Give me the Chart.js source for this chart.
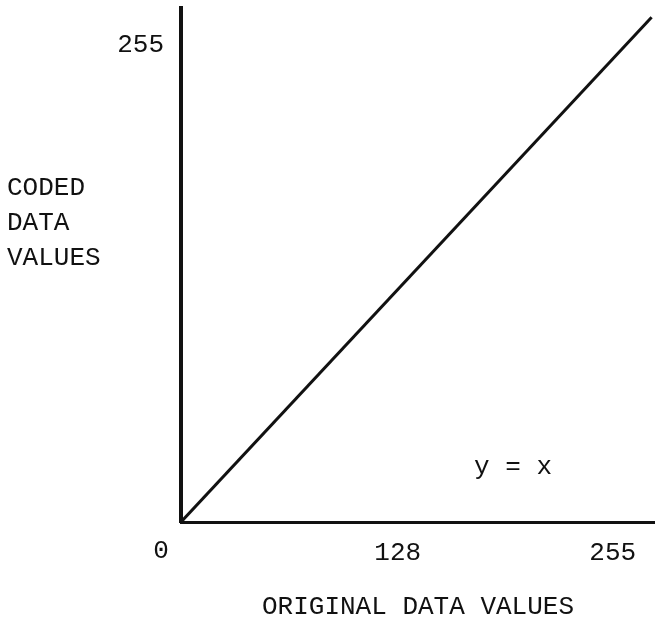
<!DOCTYPE html>
<html>
<head>
<meta charset="utf-8">
<script src="https://cdn.jsdelivr.net/npm/chart.js@4"></script>
<style>
  html, body { margin: 0; padding: 0; background: #fff; }
  canvas { display: block; }
</style>
</head>
<body>
<canvas id="codingChart" width="655" height="622"></canvas>
<script>
const originalValues = [0, 278];
const codedValues = [0, 270];
const xTickValues = [0, 128, 255];
const yTickValues = [255];
const yAxisLines = ['CODED', 'DATA', 'VALUES'];
const xAxisTitle = 'ORIGINAL DATA VALUES';
const lineLabel = 'y = x';

const typeFont = '"Liberation Mono", "Courier New", monospace';

// extra text the axes can't place on their own
const textPlugin = {
    id: 'sketchText',
    afterDraw(chart) {
        const ctx = chart.ctx;
        const x = chart.scales.x;
        ctx.save();
        ctx.fillStyle = '#111';
        ctx.font = '26px ' + typeFont;
        ctx.textBaseline = 'middle';

        ctx.textAlign = 'left';
        yAxisLines.forEach((t, i) => ctx.fillText(t, 7, 188 + i * 35));

        ctx.fillText(lineLabel, 474, 467);

        // origin label sits left of the axis
        ctx.textAlign = 'center';
        ctx.fillText(String(xTickValues[0]), x.getPixelForValue(0) - 20, 551);
        ctx.restore();
    }
};

function initializeCodingChart() {
    const canvas = document.getElementById('codingChart');

    const data = {
        datasets: [{
            data: originalValues.map((v, i) => ({ x: v, y: codedValues[i] })),
            borderColor: '#111',
            borderWidth: 3,
            pointRadius: 0,
            tension: 0,
            fill: false
        }]
    };

    const options = {
        responsive: false,
        animation: false,
        layout: { padding: { top: 8, left: 0, right: 0, bottom: 0 } },
        plugins: {
            legend: { display: false },
            tooltip: { enabled: false }
        },
        scales: {
            x: {
                type: 'linear',
                min: 0,
                max: 280,
                grid: { display: false, drawTicks: false },
                border: { display: true, color: '#111', width: 3 },
                afterBuildTicks: s => { s.ticks = xTickValues.map(v => ({ value: v })); },
                afterFit: s => { s.height = 100; },
                ticks: {
                    padding: 16,
                    color: '#111',
                    maxRotation: 0,
                    font: { family: typeFont, size: 26 },
                    callback: v => (v === 0 ? '' : String(v))
                },
                title: {
                    display: true,
                    text: xAxisTitle,
                    color: '#111',
                    font: { family: typeFont, size: 26, lineHeight: 1.1 },
                    padding: { top: 0, bottom: 1 }
                }
            },
            y: {
                type: 'linear',
                min: 0,
                max: 275,
                grid: { display: false, drawTicks: false },
                border: { display: true, color: '#111', width: 4 },
                afterBuildTicks: s => { s.ticks = yTickValues.map(v => ({ value: v })); },
                afterFit: s => {
                    s.width = 181;
                    s.paddingTop = 0;
                    s.paddingBottom = 0;
                },
                ticks: {
                    padding: 17,
                    color: '#111',
                    font: { family: typeFont, size: 26 }
                }
            }
        }
    };

    new Chart(canvas, {
        type: 'line',
        data: data,
        options: options,
        plugins: [textPlugin]
    });
}

window.addEventListener('load', initializeCodingChart);
</script>
</body>
</html>
